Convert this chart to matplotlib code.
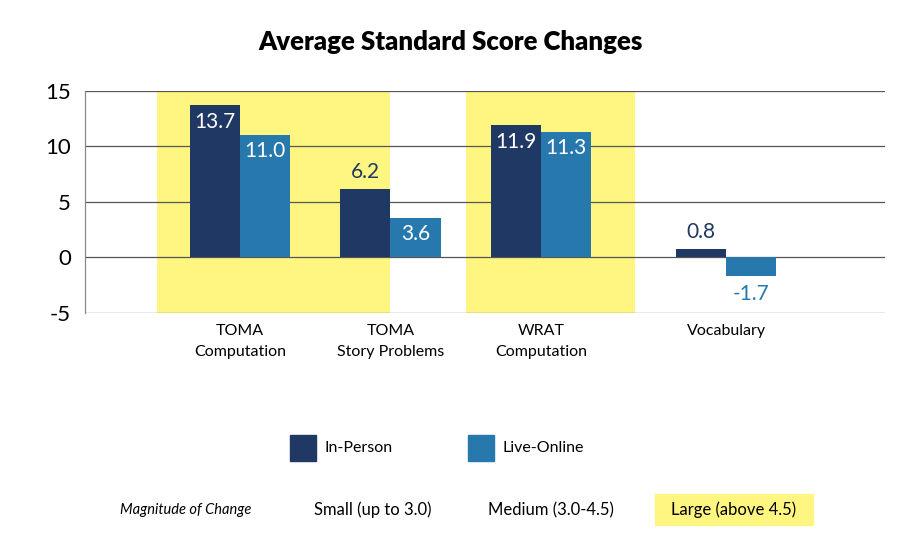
import matplotlib
matplotlib.use("Agg")
import matplotlib.pyplot as plt
from matplotlib.patches import Rectangle
import numpy as np

categories = ["TOMA\nComputation", "TOMA\nStory Problems", "WRAT\nComputation", "Vocabulary"]
in_person = [13.7, 6.2, 11.9, 0.8]
live_online = [11.0, 3.6, 11.3, -1.7]
series_names = ["In-Person", "Live-Online"]
yticks = [-5, 0, 5, 10, 15]
magnitude_labels = ["Small (up to 3.0)", "Medium (3.0-4.5)", "Large (above 4.5)"]

NAVY = "#1f3864"
BLUE = "#2678ad"
YELLOW = "#fff681"
plt.rcParams['font.family'] = ['Lato', 'DejaVu Sans']
VALFONT = dict(fontsize=15, family=['Lato', 'DejaVu Sans'])

fig = plt.figure(figsize=(9.01, 5.40), dpi=100)
ax = fig.add_axes([0.0943, 0.4204, 0.8879, 0.4111])

x = np.array([0.0, 1.0, 2.0, 3.23])
w = 0.333

# highlight bands for large changes
ax.axvspan(x[0] - 0.551, x[1] - 0.003, color=YELLOW, zorder=0, lw=0)
ax.axvspan(x[2] - 0.498, x[2] + 0.625, color=YELLOW, zorder=0, lw=0)

for yv in yticks:
    ax.axhline(yv, color="#555555", lw=0.9, zorder=1)

ax.bar(x - w / 2, in_person, w, color=NAVY, zorder=2, label=series_names[0])
ax.bar(x + w / 2, live_online, w, color=BLUE, zorder=2, label=series_names[1])

def label(xc, v, color_bar):
    if v >= 8 or (v >= 3 and color_bar == BLUE):
        ax.text(xc, v - 0.55, f"{v:.1f}", ha="center", va="top", color="white",
                zorder=3, **VALFONT)
    elif v >= 0:
        ax.text(xc, v + 0.6, f"{v:.1f}", ha="center", va="bottom", color=color_bar,
                zorder=3, **VALFONT)
    else:
        ax.text(xc, v - 0.7, f"{v:.1f}", ha="center", va="top", color=color_bar,
                zorder=3, **VALFONT)

for xc, v in zip(x - w / 2, in_person):
    label(xc, v, NAVY)
for xc, v in zip(x + w / 2, live_online):
    label(xc, v, BLUE)

ax.set_xlim(-1.03, 4.286)
ax.set_ylim(-5, 15)
ax.set_yticks(yticks)
ax.set_yticklabels([str(t) for t in yticks], fontsize=16)
ax.set_xticks(x)
ax.set_xticklabels(categories, fontsize=11.5, linespacing=1.6)
ax.tick_params(axis="both", length=0)
ax.tick_params(axis="y", pad=10)
ax.tick_params(axis="x", pad=8)
for s in ["top", "right", "bottom"]:
    ax.spines[s].set_visible(False)
ax.spines["left"].set_color("#888888")
ax.spines["left"].set_linewidth(0.9)

fig.text(0.5, 0.922, "Average Standard Score Changes", ha="center", va="center",
         fontsize=18.5, fontweight="heavy")

# legend
for px, name, col in [(290, series_names[0], NAVY), (468, series_names[1], BLUE)]:
    fig.patches.append(Rectangle((px / 901, 1 - 461 / 540), 26 / 901, 26 / 540,
                                 transform=fig.transFigure, color=col, figure=fig))
    fig.text((px + 35) / 901, 1 - 448 / 540, name, ha="left", va="center", fontsize=11.5)

fig.text(120 / 901, 1 - 510 / 540, "Magnitude of Change", ha="left", va="center",
         fontsize=10.5, style="italic")
fig.text(373 / 901, 1 - 510 / 540, magnitude_labels[0], ha="center", va="center", fontsize=12)
fig.text(551 / 901, 1 - 510 / 540, magnitude_labels[1], ha="center", va="center", fontsize=12)
fig.patches.append(Rectangle((655 / 901, 1 - 525 / 540), 158 / 901, 31 / 540,
                             transform=fig.transFigure, color=YELLOW, figure=fig))
fig.text(734 / 901, 1 - 510 / 540, magnitude_labels[2], ha="center", va="center", fontsize=12)

fig.savefig("out.png", dpi=100)
